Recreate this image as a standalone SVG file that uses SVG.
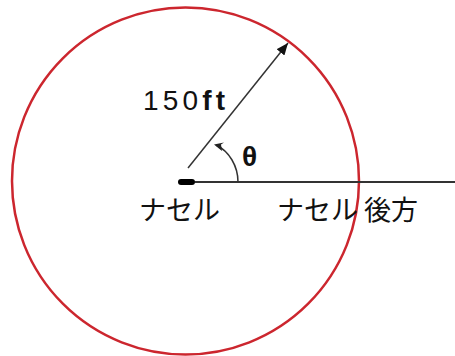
<svg xmlns="http://www.w3.org/2000/svg" width="455" height="356" viewBox="0 0 455 356">
<defs>
<style>
.lbl{font-family:"Noto Sans CJK JP","Liberation Sans",sans-serif;font-size:27px;fill:#111}
.num{font-family:"Liberation Sans","Noto Sans",sans-serif;font-size:28px;fill:#111}
.ln{stroke:#333;fill:none}
</style>
<marker id="ah" viewBox="0 0 12 10" refX="12" refY="5" markerWidth="12" markerHeight="10" markerUnits="userSpaceOnUse" orient="auto">
<path d="M0,0 L12,5 L0,10 z" fill="#111"/>
</marker>
</defs>
<rect width="455" height="356" fill="#fff"/>
<g id="range-circle">
<circle cx="185.5" cy="181" r="173.5" fill="none" stroke="#cc262e" stroke-width="2.5"/>
</g>
<g id="connectors">
<line class="ln" x1="195" y1="182" x2="455" y2="182" stroke-width="2"/>
<line class="ln" x1="188" y1="168" x2="288" y2="43" stroke="#222" stroke-width="1.5" marker-end="url(#ah)"/>
<path class="ln" d="M238,182 C238,166 229,151 216,145" stroke="#222" stroke-width="1.5"/>
<path d="M214,144.5 L224,142.5 L221,144.5 L222,151 Z" fill="#222"/>
</g>
<g id="nacelle">
<rect x="178" y="179" width="17" height="6" rx="3" fill="#000"/>
<text class="lbl" x="139" y="220">ナセル</text>
</g>
<g id="aft">
<text class="lbl" x="277" y="220">ナセル 後方</text>
</g>
<g id="dist-label">
<text class="num" x="143" y="110" textLength="82" lengthAdjust="spacing">150<tspan font-weight="bold">ft</tspan></text>
</g>
<g id="theta-label">
<text class="num" x="242" y="166" font-weight="bold" font-size="25">θ</text>
</g>
</svg>
